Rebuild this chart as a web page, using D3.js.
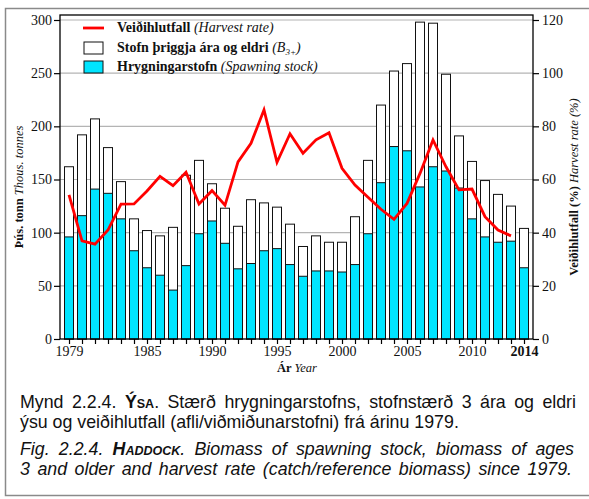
<!DOCTYPE html>
<meta charset="utf-8">
<head>
    <title>Ýsa - Haddock</title>
    <style>
        body { margin: 0; background: #fff; }
        svg text { font-family: "Liberation Serif", "Times New Roman", serif; }
        .cap { font-family: "Liberation Sans", Arial, sans-serif; font-size: 17.8px; fill: #111; }
    </style>
</head>
<body>
<svg width="589" height="499"></svg>
<script src="https://cdnjs.cloudflare.com/ajax/libs/d3/7.8.5/d3.min.js"></script>
<script>

    //years (categories)
    var years = [1979, 1980, 1981, 1982, 1983, 1984, 1985, 1986, 1987, 1988, 1989, 1990,
        1991, 1992, 1993, 1994, 1995, 1996, 1997, 1998, 1999, 2000, 2001, 2002,
        2003, 2004, 2005, 2006, 2007, 2008, 2009, 2010, 2011, 2012, 2013, 2014];

    //stock 3 years and older, thous. tonnes
    var b3plus = [162, 192, 207, 180, 148, 113, 102, 97, 105, 154, 168, 146,
        123, 106, 131, 128, 124, 108, 87, 97, 91, 91, 115, 168,
        220, 252, 259, 298, 297, 249, 191, 167, 149, 136, 125, 104];

    //spawning stock, thous. tonnes
    var spawning = [96, 116, 141, 137, 113, 83, 67, 60, 46, 69, 99, 111,
        90, 66, 71, 83, 85, 70, 59, 64, 64, 63, 70, 99,
        147, 181, 177, 143, 162, 158, 142, 113, 96, 91, 92, 67];

    //harvest rate %, 1979-2013
    var harvest = [54.2, 36.9, 35.7, 41, 50.7, 50.8, 55.7, 61.2, 57.7, 62.7, 50.8, 55.8,
        50.3, 66.6, 73.6, 86.2, 66.5, 77.2, 69.9, 74.9, 77.6, 64.2, 57.9, 53.3,
        48.8, 45, 51, 62.3, 74.9, 64.8, 56.1, 56.4, 46, 41, 38.8];

    var leftTicks = [0, 50, 100, 150, 200, 250, 300];
    var rightTicks = [0, 20, 40, 60, 80, 100, 120];
    var yearLabels = [1979, 1985, 1990, 1995, 2000, 2005, 2010, 2014];

    var svg = d3.select("svg");

    //outer figure frame
    svg.append("rect")
            .attr("x", 5.5).attr("y", 8.5)
            .attr("width", 620).attr("height", 487)
            .attr("fill", "none").attr("stroke", "#8a8a8a").attr("stroke-width", 1.5);

    var plotL = 60, plotR = 533, plotT = 15, plotB = 339;

    var x = d3.scaleLinear().domain([1979, 2014]).range([69, 524]);
    var y = d3.scaleLinear().domain([0, 300]).range([plotB, 20]);
    var y2 = d3.scaleLinear().domain([0, 120]).range([plotB, 20]);
    var barW = 9;

    //grid lines
    svg.append("g")
            .selectAll("line")
            .data(leftTicks.slice(1))
            .enter().append("line")
            .attr("x1", plotL).attr("x2", plotR)
            .attr("y1", function(d) { return y(d); })
            .attr("y2", function(d) { return y(d); })
            .attr("stroke", "#b4b4b4").attr("stroke-width", 1.2);

    var rows = years.map(function(yr, i) {
        return {year: yr, total: b3plus[i], ssb: spawning[i]};
    });

    //B3+ bars (white)
    svg.append("g")
            .selectAll("rect")
            .data(rows)
            .enter().append("rect")
            .attr("x", function(d) { return x(d.year) - barW / 2; })
            .attr("y", function(d) { return y(d.total); })
            .attr("width", barW)
            .attr("height", function(d) { return plotB - y(d.total); })
            .attr("fill", "#fff").attr("stroke", "#111").attr("stroke-width", 1);

    //spawning stock bars (cyan)
    svg.append("g")
            .selectAll("rect")
            .data(rows)
            .enter().append("rect")
            .attr("x", function(d) { return x(d.year) - barW / 2; })
            .attr("y", function(d) { return y(d.ssb); })
            .attr("width", barW)
            .attr("height", function(d) { return plotB - y(d.ssb); })
            .attr("fill", "#00e5ff").attr("stroke", "#111").attr("stroke-width", 1);

    //harvest rate line
    var line = d3.line()
            .x(function(d, i) { return x(years[i]); })
            .y(function(d) { return y2(d); });
    svg.append("path")
            .datum(harvest)
            .attr("d", line)
            .attr("fill", "none").attr("stroke", "#ff0000")
            .attr("stroke-width", 2.8).attr("stroke-linejoin", "miter");

    //plot frame
    svg.append("rect")
            .attr("x", plotL).attr("y", plotT)
            .attr("width", plotR - plotL).attr("height", plotB - plotT)
            .attr("fill", "none").attr("stroke", "#000").attr("stroke-width", 1.3);

    //axes
    var leftAxis = d3.axisLeft(y).tickValues(leftTicks).tickSize(6).tickPadding(2);
    var gl = svg.append("g").attr("transform", "translate(" + plotL + ",0)").call(leftAxis);
    var rightAxis = d3.axisRight(y2).tickValues(rightTicks).tickSize(6).tickPadding(3);
    var gr = svg.append("g").attr("transform", "translate(" + plotR + ",0)").call(rightAxis);
    var bottomAxis = d3.axisBottom(x).tickValues(years).tickSize(5).tickPadding(2)
            .tickFormat(function(d) { return yearLabels.indexOf(d) >= 0 ? d : ""; });
    var gb = svg.append("g").attr("transform", "translate(0," + plotB + ")").call(bottomAxis);

    [gl, gr, gb].forEach(function(g) {
        g.select(".domain").remove();
        g.selectAll("line").attr("stroke", "#000").attr("stroke-width", 1.2);
        g.selectAll("text").attr("font-family", "Liberation Serif")
                .attr("font-size", 14).attr("fill", "#111");
    });
    gb.selectAll("text").filter(function(d) { return d === 2014; }).attr("font-weight", "bold");

    //axis titles
    var lt = svg.append("text")
            .attr("transform", "translate(23,187) rotate(-90)")
            .attr("text-anchor", "middle").attr("font-size", 12.5).attr("fill", "#111");
    lt.append("tspan").attr("font-weight", "bold").text("Þús. tonn ");
    lt.append("tspan").attr("font-style", "italic").text("Thous. tonnes");

    var rt = svg.append("text")
            .attr("transform", "translate(578,187) rotate(-90)")
            .attr("text-anchor", "middle").attr("font-size", 12.5).attr("fill", "#111");
    rt.append("tspan").attr("font-weight", "bold").text("Veiðihlutfall (%) ");
    rt.append("tspan").attr("font-style", "italic").text("Harvest rate (%)");

    var xt = svg.append("text")
            .attr("x", 297).attr("y", 372)
            .attr("text-anchor", "middle").attr("font-size", 12.5).attr("fill", "#111");
    xt.append("tspan").attr("font-weight", "bold").text("Ár ");
    xt.append("tspan").attr("font-style", "italic").text("Year");

    //legend
    var lg = svg.append("g");
    lg.append("line").attr("x1", 83).attr("x2", 104).attr("y1", 28).attr("y2", 28)
            .attr("stroke", "#ff0000").attr("stroke-width", 2.8);
    lg.append("rect").attr("x", 84).attr("y", 42).attr("width", 19).attr("height", 12)
            .attr("fill", "#fff").attr("stroke", "#111").attr("stroke-width", 1);
    lg.append("rect").attr("x", 84).attr("y", 61).attr("width", 19).attr("height", 12)
            .attr("fill", "#00e5ff").attr("stroke", "#111").attr("stroke-width", 1);

    var t1 = lg.append("text").attr("x", 117).attr("y", 32).attr("font-size", 14).attr("fill", "#111");
    t1.append("tspan").attr("font-weight", "bold").text("Veiðihlutfall ");
    t1.append("tspan").attr("font-style", "italic").text("(Harvest rate)");

    var t2 = lg.append("text").attr("x", 117).attr("y", 52).attr("font-size", 14).attr("fill", "#111");
    t2.append("tspan").attr("font-weight", "bold").text("Stofn þriggja ára og eldri ");
    t2.append("tspan").attr("font-style", "italic").text("(B");
    t2.append("tspan").attr("font-style", "italic").attr("font-size", 9).attr("dy", 3).text("3+");
    t2.append("tspan").attr("font-style", "italic").attr("dy", -3).text(")");

    var t3 = lg.append("text").attr("x", 117).attr("y", 71).attr("font-size", 14).attr("fill", "#111");
    t3.append("tspan").attr("font-weight", "bold").text("Hrygningarstofn ");
    t3.append("tspan").attr("font-style", "italic").text("(Spawning stock)");

    //caption
    var c1 = svg.append("text").attr("class", "cap").attr("x", 20).attr("y", 407.5);
    c1.append("tspan").text("Mynd 2.2.4. ");
    c1.append("tspan").attr("font-weight", "bold").text("Ý");
    c1.append("tspan").attr("font-weight", "bold").attr("font-size", 12.5).text("SA");
    c1.append("tspan").text(". Stærð hrygningarstofns, stofnstærð 3 ára og eldri");

    svg.append("text").attr("class", "cap").attr("x", 20).attr("y", 428)
            .text("ýsu og veiðihlutfall (afli/viðmiðunarstofni) frá árinu 1979.");

    var c3 = svg.append("text").attr("class", "cap").attr("x", 20).attr("y", 454.5)
            .attr("font-style", "italic");
    c3.append("tspan").text("Fig. 2.2.4. ");
    c3.append("tspan").attr("font-weight", "bold").text("H");
    c3.append("tspan").attr("font-weight", "bold").attr("font-size", 12.5).text("ADDOCK");
    c3.append("tspan").text(". Biomass of spawning stock, biomass of ages");

    var c4 = svg.append("text").attr("class", "cap").attr("x", 20).attr("y", 475)
            .attr("font-style", "italic")
            .text("3 and older and harvest rate (catch/reference biomass) since 1979.");

    //justify lines by word spacing
    [[c1, 556], [c3, 554], [c4, 552]].forEach(function(p) {
        var el = p[0].node();
        var len = el.getComputedTextLength();
        var spaces = (el.textContent.match(/ /g) || []).length;
        var extra = (p[1] - len) / spaces;
        if (extra > 0) p[0].attr("word-spacing", extra);
    });

</script>
</body>
